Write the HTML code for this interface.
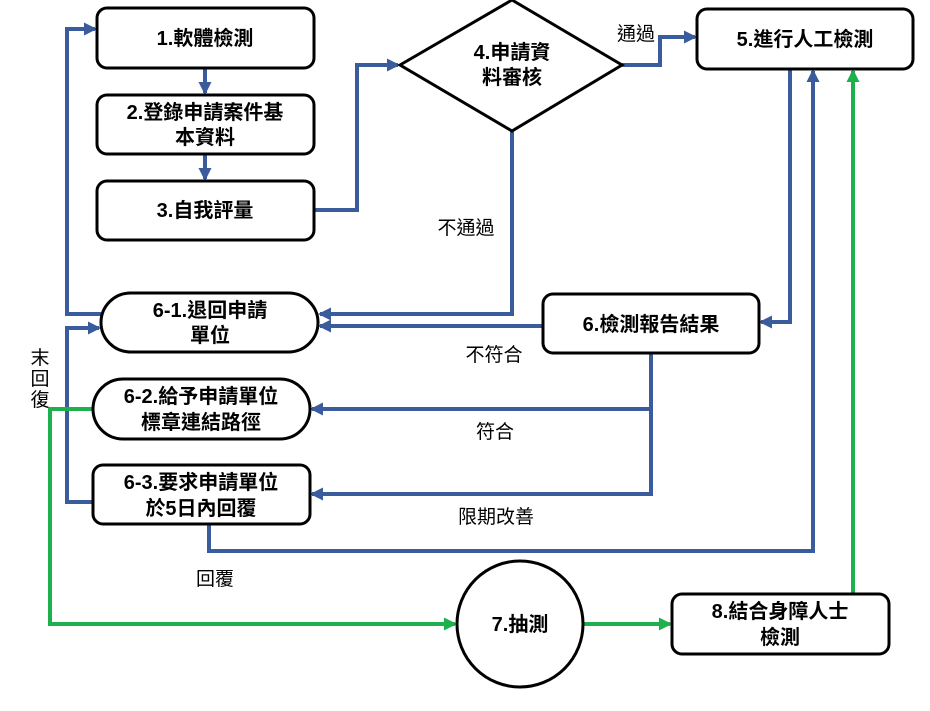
<!DOCTYPE html>
<html><head><meta charset="utf-8"><style>
body{margin:0;background:#fff;}
svg text{font-family:"Liberation Sans","Noto Sans CJK TC",sans-serif;}
</style></head><body>
<svg width="930" height="706" viewBox="0 0 930 706" xmlns="http://www.w3.org/2000/svg">
<defs>
<marker id="b" markerWidth="13" markerHeight="13" refX="11" refY="6.5" orient="auto" markerUnits="userSpaceOnUse"><path d="M0,0 L13,6.5 L0,13 z" fill="#3a5c9c"/></marker>
<marker id="g" markerWidth="13" markerHeight="13" refX="11" refY="6.5" orient="auto" markerUnits="userSpaceOnUse"><path d="M0,0 L13,6.5 L0,13 z" fill="#1db04c"/></marker>
</defs>
<g fill="none" stroke="#3a5c9c" stroke-width="4">
<path d="M205,68 V93" marker-end="url(#b)"/>
<path d="M205,154 V179" marker-end="url(#b)"/>
<path d="M314,210 H357 V65 H398" marker-end="url(#b)"/>
<path d="M622,65 H660 V37 H695" marker-end="url(#b)"/>
<path d="M512,131 V314 H320" marker-end="url(#b)"/>
<path d="M543,326 H320" marker-end="url(#b)"/>
<path d="M790,69 V322 H761" marker-end="url(#b)"/>
<path d="M209,524 V551 H813 V71" marker-end="url(#b)"/>
<path d="M651,353 V494 H312" marker-end="url(#b)"/>
<path d="M651,409 H312" marker-end="url(#b)"/>
<path d="M101,314 H67 V29 H95" marker-end="url(#b)"/>
<path d="M93,502 H67 V328 H99" marker-end="url(#b)"/>
</g>
<g fill="none" stroke="#1db04c" stroke-width="4">
<path d="M853,594 V71" marker-end="url(#g)"/>
<path d="M93,409 H50 V624 H455" marker-end="url(#g)"/>
<path d="M583,624 H670" marker-end="url(#g)"/>
</g>
<g fill="#fff" stroke="#000" stroke-width="3">
<rect x="97" y="8" width="217" height="60" rx="10"/>
<rect x="97" y="95" width="217" height="59" rx="10"/>
<rect x="97" y="181" width="217" height="59" rx="10"/>
<polygon points="400,65 512,0 622,65 512,131"/>
<rect x="697" y="9" width="216" height="60" rx="10"/>
<rect x="543" y="294" width="216" height="59" rx="10"/>
<rect x="101" y="293" width="217" height="59" rx="29.5"/>
<rect x="93" y="379" width="217" height="60" rx="30"/>
<rect x="93" y="465" width="217" height="59" rx="10"/>
<circle cx="520" cy="624" r="63"/>
<rect x="672" y="594" width="217" height="60" rx="10"/>
</g>
<g font-size="20" font-weight="bold" text-anchor="middle" fill="#000">
<text x="205" y="45">1.軟體檢測</text>
<text x="205" y="119">2.登錄申請案件基</text>
<text x="205" y="144">本資料</text>
<text x="205" y="217">3.自我評量</text>
<text x="512" y="59">4.申請資</text>
<text x="512" y="84">料審核</text>
<text x="805" y="46">5.進行人工檢測</text>
<text x="651" y="331">6.檢測報告結果</text>
<text x="210" y="317">6-1.退回申請</text>
<text x="210" y="342">單位</text>
<text x="201" y="403">6-2.給予申請單位</text>
<text x="201" y="429">標章連結路徑</text>
<text x="201" y="489">6-3.要求申請單位</text>
<text x="201" y="515">於5日內回覆</text>
<text x="520" y="631">7.抽測</text>
<text x="780" y="618">8.結合身障人士</text>
<text x="780" y="644">檢測</text>
</g>
<g font-size="19" fill="#000" text-anchor="middle">
<text x="636" y="40">通過</text>
<text x="466" y="234">不通過</text>
<text x="494" y="361">不符合</text>
<text x="495" y="438">符合</text>
<text x="496" y="523">限期改善</text>
<text x="215" y="585">回覆</text>
<text x="40" y="364">末</text>
<text x="40" y="385">回</text>
<text x="40" y="406">復</text>
</g>
</svg>
</body></html>
